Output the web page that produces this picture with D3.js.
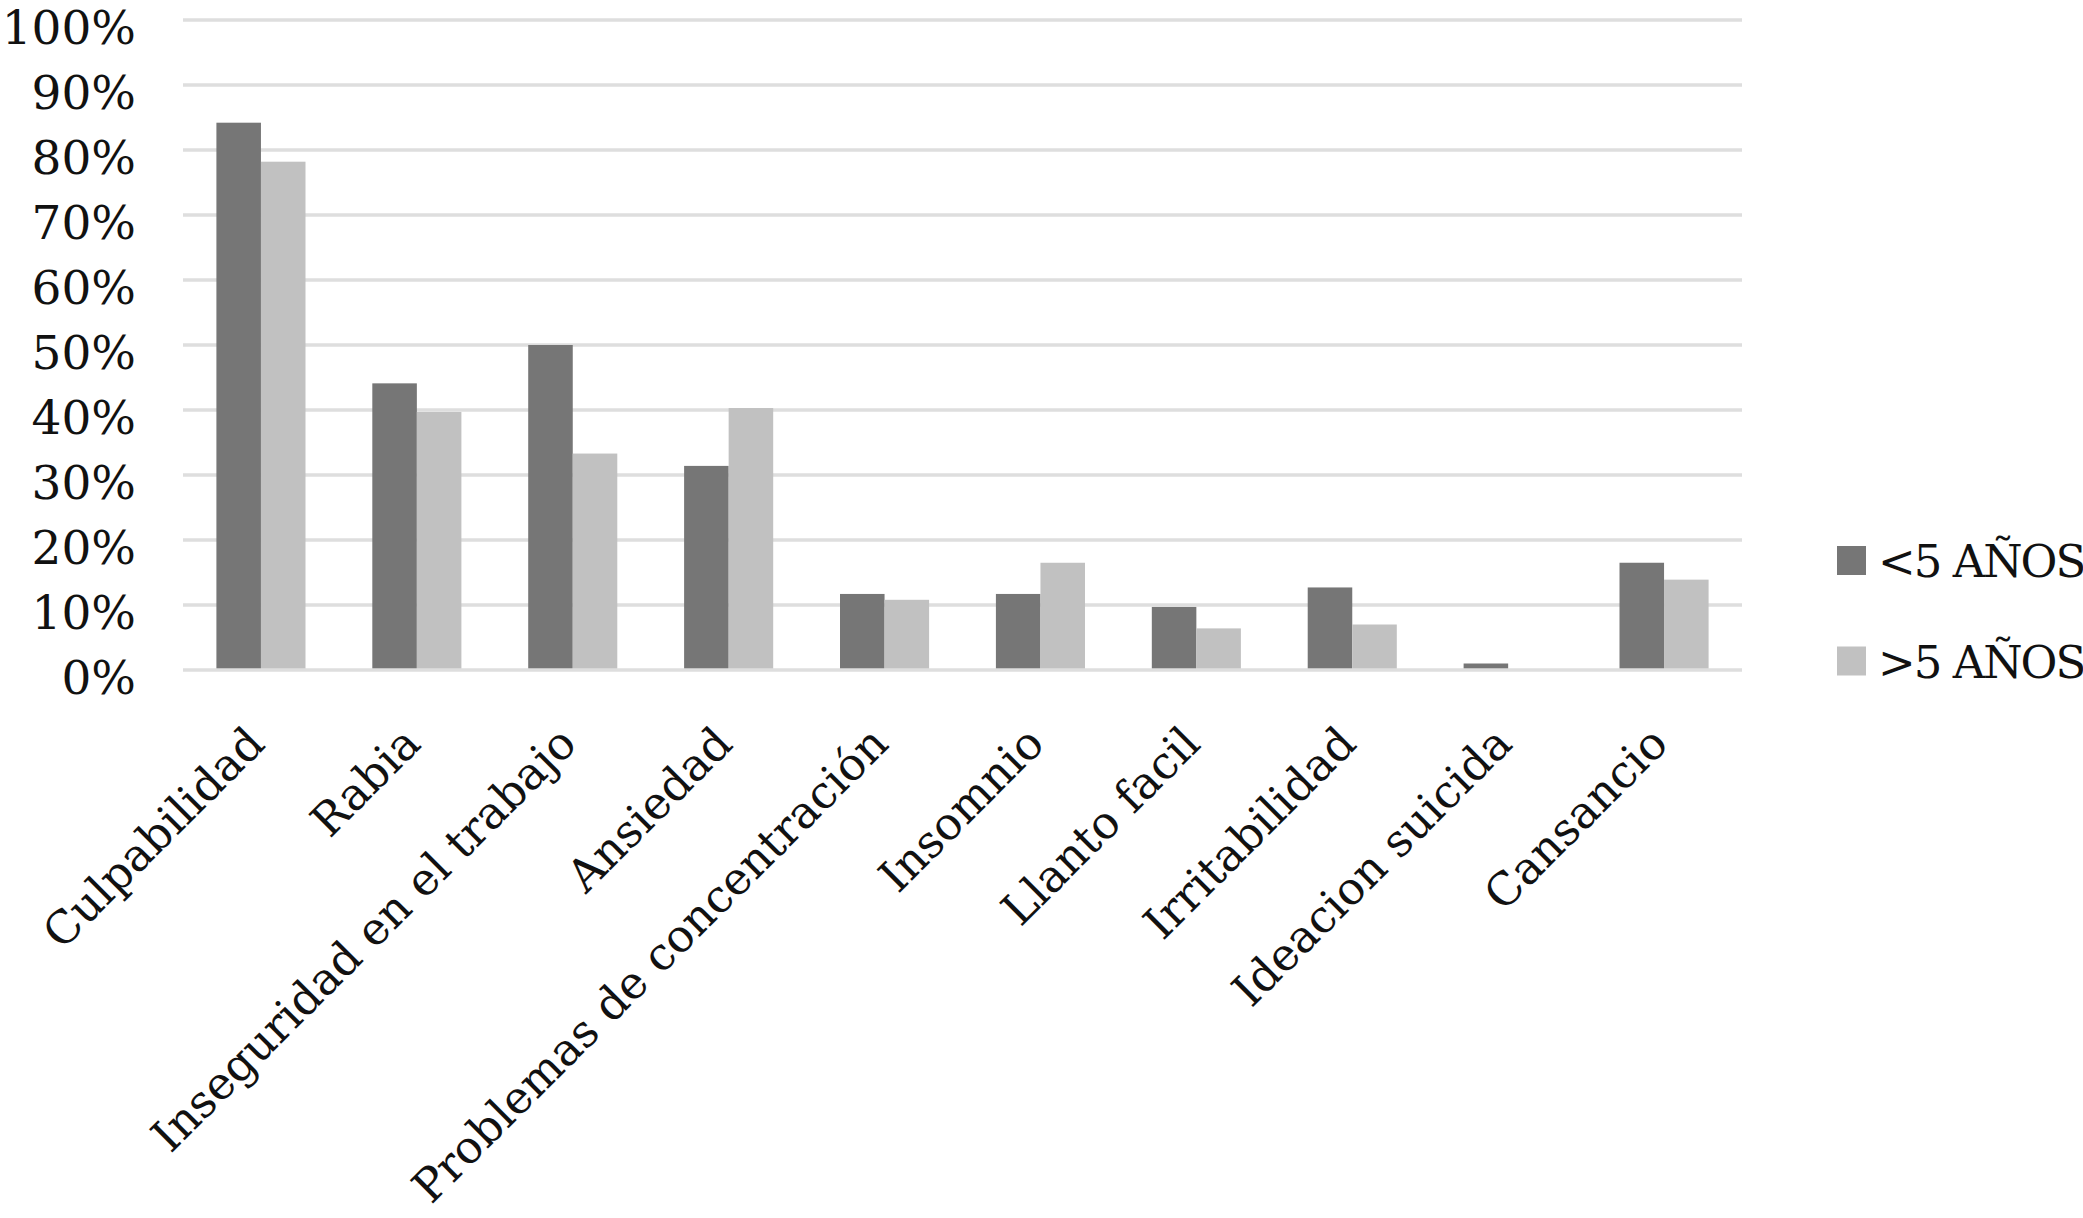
<!DOCTYPE html>
<html>
<head>
<meta charset="utf-8">
<script src="https://cdn.jsdelivr.net/npm/d3@7"></script>
<style>
  html, body { margin: 0; padding: 0; background: #fff; }
  svg { display: block; }
  text { font-family: "DejaVu Serif", serif; fill: #111; }
</style>
</head>
<body>
<svg id="chart" width="2083" height="1218"></svg>
<script>
const categories = ["Culpabilidad", "Rabia", "Inseguridad en el trabajo", "Ansiedad",
  "Problemas de concentración", "Insomnio", "Llanto facil", "Irritabilidad",
  "Ideacion suicida", "Cansancio"];
const seriesNames = ["<5 AÑOS", ">5 AÑOS"];
const under5 = [84.2, 44.1, 50.0, 31.4, 11.7, 11.7, 9.7, 12.7, 1.0, 16.5];
const over5  = [78.2, 39.7, 33.3, 40.3, 10.8, 16.5, 6.4, 7.0, 0, 13.9];
const yTicks = [0, 10, 20, 30, 40, 50, 60, 70, 80, 90, 100];
const colors = ["#767676", "#c1c1c1"];

(function () {
const svg = d3.select("#chart");
const mLeft = 183, mRight = 1742, mTop = 20, mBottom = 670;

const x = d3.scaleBand().domain(categories).range([mLeft, mRight]).paddingInner(0).paddingOuter(0);
const xs = d3.scaleBand().domain(seriesNames).range([0, x.bandwidth()]).paddingInner(0).paddingOuter(0.75);
const y = d3.scaleLinear().domain([0, 100]).range([mBottom, mTop]);
const color = d3.scaleOrdinal().domain(seriesNames).range(colors);

// gridlines
svg.append("g").selectAll("line").data(yTicks.filter(d => d > 0)).join("line")
  .attr("x1", mLeft).attr("x2", mRight)
  .attr("y1", d => y(d)).attr("y2", d => y(d))
  .attr("stroke", "#dedede").attr("stroke-width", 3.5);

// bars
const rows = categories.map((c, i) => ({cat: c, vals: [under5[i], over5[i]]}));
const groups = svg.append("g").selectAll("g").data(rows).join("g")
  .attr("transform", d => `translate(${x(d.cat)},0)`);
groups.selectAll("rect").data(d => d.vals.map((v, j) => ({s: seriesNames[j], v})))
  .join("rect")
  .attr("x", d => xs(d.s))
  .attr("width", xs.bandwidth())
  .attr("y", d => y(d.v))
  .attr("height", d => y(0) - y(d.v))
  .attr("fill", d => color(d.s));

// baseline axis line
svg.append("line").attr("x1", mLeft).attr("x2", mRight)
  .attr("y1", y(0)).attr("y2", y(0))
  .attr("stroke", "#dedede").attr("stroke-width", 3.5);

// y axis labels
const yAxis = svg.append("g").attr("transform", `translate(${mLeft},0)`)
  .call(d3.axisLeft(y).tickValues(yTicks).tickFormat(d => d + "%").tickSize(0).tickPadding(47));
yAxis.select(".domain").remove();
yAxis.selectAll("text").attr("font-family", "DejaVu Serif").attr("font-size", 47)
  .attr("fill", "#111").attr("dy", "0.5em");

// x axis labels
const xAxis = svg.append("g").attr("transform", `translate(0,${mBottom})`)
  .call(d3.axisBottom(x).tickSize(0));
xAxis.select(".domain").remove();
xAxis.selectAll("text")
  .attr("font-family", "DejaVu Serif").attr("font-size", 45).attr("fill", "#111")
  .attr("x", 0).attr("y", 0).attr("dy", 0)
  .attr("text-anchor", "end")
  .attr("transform", "translate(6,76) rotate(-45)");

// legend
const legend = svg.append("g").selectAll("g").data(seriesNames).join("g")
  .attr("transform", (d, i) => `translate(1837,${560.5 + i * 100.5})`);
legend.append("rect").attr("x", 0).attr("y", -14.5).attr("width", 29).attr("height", 29)
  .attr("fill", d => color(d));
legend.append("text").attr("x", 41).attr("y", 16.5).attr("font-size", 45)
  .attr("letter-spacing", -2).text(d => d);
})();
</script>
</body>
</html>
